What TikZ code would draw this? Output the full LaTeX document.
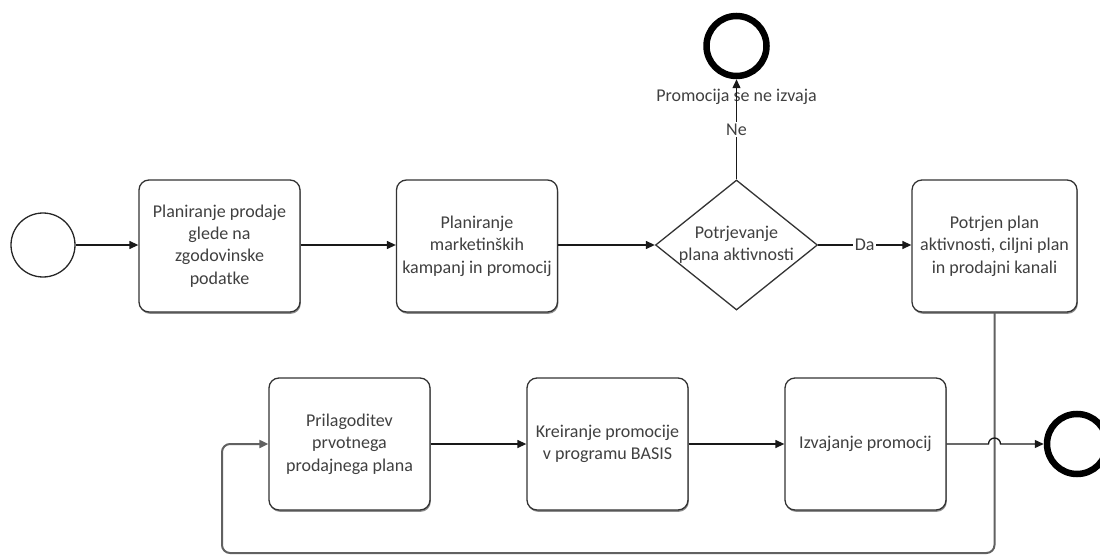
\documentclass[tikz,border=0pt]{standalone}
\usepackage{fontspec}
\setmainfont{Carlito}
\usetikzlibrary{arrows.meta,shapes.geometric,shadows}
\begin{document}
\begin{tikzpicture}[x=1pt,y=-1pt,
  txt/.style={font=\fontsize{18}{22.3}\selectfont, text=black!75},
  task/.style={txt, draw=black!80, line width=1.3pt, rounded corners=10pt,
    minimum width=161pt, minimum height=132pt, align=center, fill=white, inner sep=2pt,
    drop shadow={shadow xshift=0.8pt, shadow yshift=-1.8pt, fill=black, opacity=.45}},
  gate/.style={txt, draw=black!80, line width=1.3pt, shape=diamond, aspect=1.25,
    minimum width=162pt, minimum height=130pt, inner sep=0pt, align=center, fill=white},
  startev/.style={circle, draw=black!85, line width=1.3pt, minimum size=64pt, inner sep=0pt},
  endev/.style={circle, draw=black, line width=6.5pt, minimum size=60pt, inner sep=0pt},
  flow/.style={-{Triangle[length=9pt,width=8pt]}, line width=1.3pt, draw=black!90},
  lbl/.style={txt, fill=white, inner sep=1.5pt}
]
\useasboundingbox (0,0) rectangle (1100,556);

% events
\node[startev] (s) at (43,245) {};
\node[endev] (e1) at (736.5,46) {};
\node[endev] (e2) at (1077,444) {};

% upper row
\node[task] (t1) at (219.5,246) {Planiranje prodaje\\glede na\\zgodovinske\\podatke};
\node[task] (t2) at (477,246) {Planiranje\\marketinških\\kampanj in promocij};
\node[gate] (g) at (736.5,245) {Potrjevanje\\plana aktivnosti};
\node[task, minimum width=165pt] (t4) at (994.5,246) {Potrjen plan\\aktivnosti, ciljni plan\\in prodajni kanali};

% lower row
\node[task] (t5) at (349.5,444) {Prilagoditev\\prvotnega\\prodajnega plana};
\node[task] (t6) at (607.5,444) {Kreiranje promocije\\v programu BASIS};
\node[task] (t7) at (865.5,444) {Izvajanje promocij};

% label of the end event
\node[txt] (e1l) at (736.5,97) {Promocija se ne izvaja};

% sequence flows
\draw[flow] (s.east) -- (t1.west |- s.east);
\draw[flow] (t1.east |- s.east) -- (t2.west |- s.east);
\draw[flow] (t2.east |- g.west) -- (g.west);
\draw[flow] (g.east) -- node[lbl] {Da} (t4.west |- g.east);
\draw[flow] (g.north) -- node[lbl, pos=0.5] {Ne} (e1.south);

\coordinate (lb) at (222,553);
\draw[flow, draw=black!62, line width=2pt, rounded corners=8pt] (t4.south) |- (lb) |- (t5.west);

\draw[flow] (t5.east) -- (t6.west);
\draw[flow] (t6.east) -- (t7.west);
\draw[flow] (t7.east) -- (988.5,444) arc[start angle=180, end angle=0, radius=6pt] -- (e2.west);
\end{tikzpicture}
\end{document}
